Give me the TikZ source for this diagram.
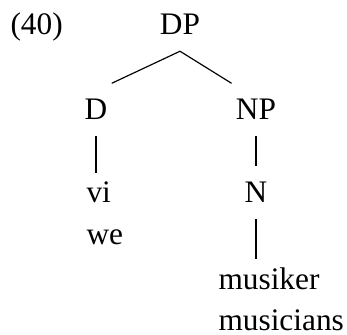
\documentclass[tikz,border=0pt]{standalone}
\usepackage{fontspec}
\setmainfont{Liberation Serif}

\begin{document}
\begin{tikzpicture}[
  x=0.383pt, y=-0.383pt,
  font=\fontsize{12}{14}\selectfont,
  cat/.style={anchor=base, inner xsep=1.5pt, inner ysep=6pt},
  word/.style={anchor=base west, inner xsep=0pt, inner ysep=3.3pt},
  branch/.style={line width=0.45pt}
]
\useasboundingbox (0,0) rectangle (347,335);

\node[anchor=base west, inner sep=0pt] (exnum) at (10,35) {(40)};
\node[cat] (dp) at (180,35) {DP};
\node[cat] (d) at (96,120) {D};
\node[cat] (np) at (256,120) {NP};
\node[cat] (n) at (256,203) {N};
\node[word] (vi) at (86,203) {vi};
\node[word] (we) at (86,245) {we};
\node[word] (musiker) at (218,290) {musiker};
\node[word] (musicians) at (218,330) {musicians};

\draw[branch] (dp.south) -- (d.north east);
\draw[branch] (dp.south) -- (np.north west);
\draw[branch] (d.south) -- (d.south |- vi.north);
\draw[branch] (np.south) -- (n.north);
\draw[branch] (n.south) -- (n.south |- musiker.north);
\end{tikzpicture}
\end{document}
